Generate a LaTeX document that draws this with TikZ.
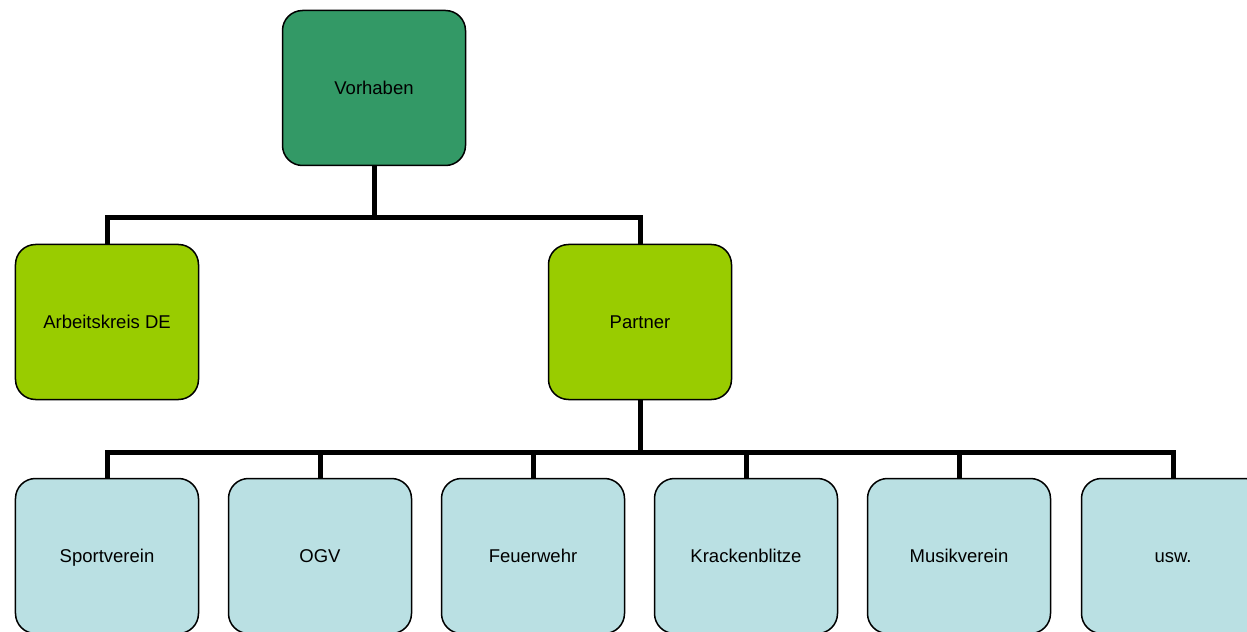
\documentclass[tikz,border=0pt]{standalone}
\usepackage{fontspec}
\setmainfont{Liberation Sans}
\definecolor{topgreen}{HTML}{339966}
\definecolor{midgreen}{HTML}{99CC00}
\definecolor{lightblue}{HTML}{BAE0E3}
\tikzset{
  box/.style={draw=black, line width=1.5bp, rounded corners=20bp, rectangle,
    minimum width=183bp, minimum height=155bp, inner sep=0pt,
    font=\fontsize{18.5bp}{22bp}\selectfont, text=black,
    text height=13.3bp, text depth=0bp},
  topbox/.style={box, fill=topgreen},
  midbox/.style={box, fill=midgreen},
  leafbox/.style={box, fill=lightblue},
  conn/.style={draw=black, line width=5bp, line join=miter}
}
\begin{document}
\begin{tikzpicture}[x=1bp,y=-1bp]
\useasboundingbox (0,0) rectangle (1247,632);
\clip (0,0) rectangle (1247,632);
\node[topbox] (v) at (374,88) {Vorhaben};
\node[midbox] (a) at (107,322) {Arbeitskreis DE};
\node[midbox] (p) at (640,322) {Partner};
\node[leafbox] (l1) at (107,556) {Sportverein};
\node[leafbox] (l2) at (320,556) {OGV};
\node[leafbox] (l3) at (533,556) {Feuerwehr};
\node[leafbox] (l4) at (746,556) {Krackenblitze};
\node[leafbox] (l5) at (959,556) {Musikverein};
\node[leafbox] (l6) at (1173,556) {usw.};
\coordinate (j1) at (374,218);
\coordinate (j2) at (640,452);
\draw[conn] (v.south) -- (j1) -| (a.north);
\draw[conn] (j1) -| (p.north);
\draw[conn] (p.south) -- (j2);
\foreach \n in {l1,l2,l3,l4,l5,l6} {\draw[conn] (j2) -| (\n.north);}
\end{tikzpicture}
\end{document}
